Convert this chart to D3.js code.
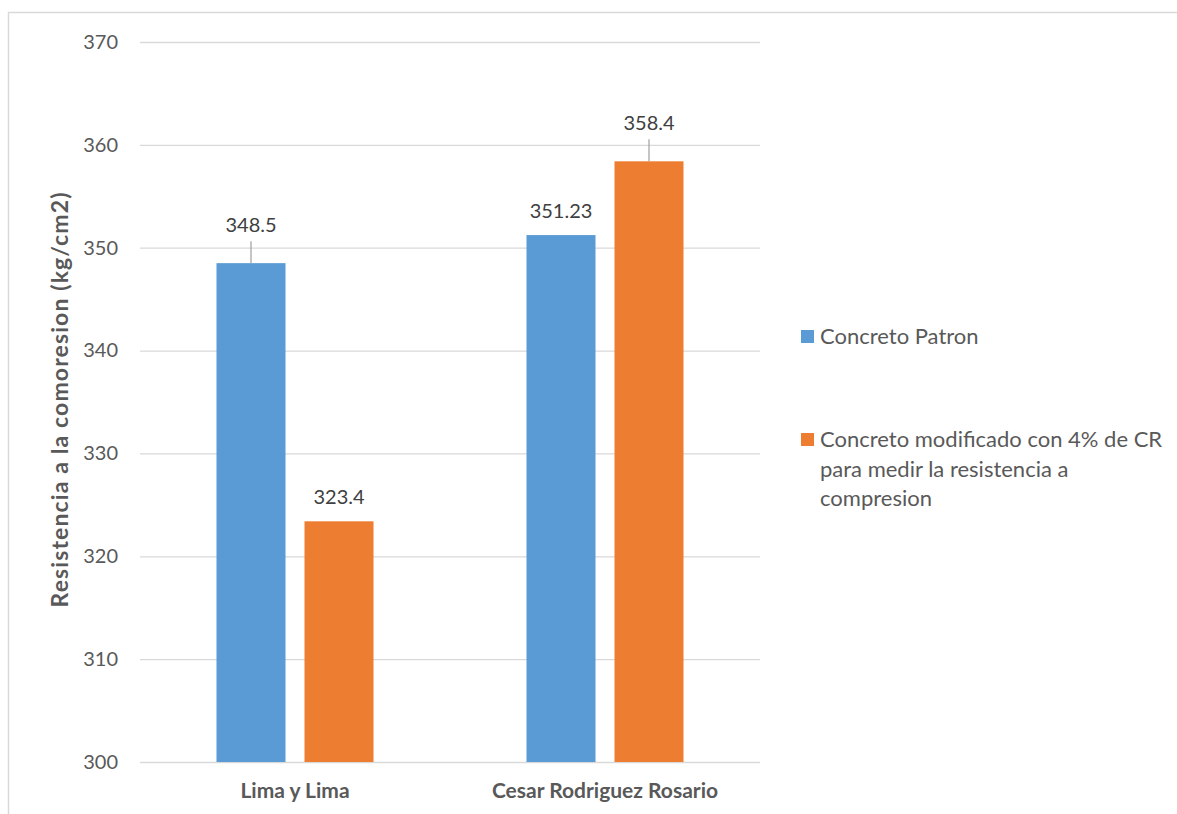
<!DOCTYPE html>
<html>
<head>
<meta charset="utf-8">
<script src="https://cdn.jsdelivr.net/npm/d3@7"></script>
<style>
  html, body { margin: 0; padding: 0; background: #fff; }
  svg { display: block; font-family: Lato, "Open Sans", "Liberation Sans", sans-serif; }
</style>
</head>
<body>
<svg id="chart" width="1177" height="814"></svg>
<script>
// Compressive strength by plant, standard vs. modified concrete
const categories = ["Lima y Lima", "Cesar Rodriguez Rosario"];
const seriesNames = ["Concreto Patron", "Concreto modificado con 4% de CR para medir la resistencia a compresion"];
const patronValues = [348.5, 351.23];
const modificadoValues = [323.4, 358.4];
const valueLabels = [["348.5", "351.23"], ["323.4", "358.4"]];
const yTicks = [300, 310, 320, 330, 340, 350, 360, 370];
const leaderLines = [[true, false], [false, true]]; // [series][category]

const colors = ["#5B9BD5", "#ED7D31"];
const textColor = "#595959";
const gridColor = "#d9d9d9";

const svg = d3.select("#chart");

// outer frame
svg.append("rect")
  .attr("x", 8.5).attr("y", 12.5)
  .attr("width", 1200).attr("height", 900)
  .attr("fill", "none").attr("stroke", gridColor).attr("stroke-width", 1.5);

const plot = { left: 140, right: 760, top: 42, bottom: 762 };

const x = d3.scaleBand().domain(categories).range([plot.left, plot.right]).paddingInner(0).paddingOuter(0);
const y = d3.scaleLinear().domain([300, 370]).range([plot.bottom, plot.top]);

const barW = 69, gap = 19;

// gridlines + y tick labels
const yAxis = d3.axisLeft(y).tickValues(yTicks).tickSize(-(plot.right - plot.left)).tickPadding(22).tickFormat(d3.format("d"));
const gy = svg.append("g").attr("transform", `translate(${plot.left},0)`).call(yAxis);
gy.select(".domain").remove();
gy.selectAll(".tick line").attr("stroke", gridColor).attr("stroke-width", 1.3);
gy.selectAll(".tick text").attr("fill", textColor).style("font-size", "20px")
  .style("font-family", "Lato, 'Open Sans', sans-serif");

const series = [patronValues, modificadoValues];

series.forEach((vals, si) => {
  const g = svg.append("g");
  g.selectAll("rect").data(vals).enter().append("rect")
    .attr("x", (d, i) => x(categories[i]) + x.bandwidth() / 2 + (si === 0 ? -gap / 2 - barW : gap / 2))
    .attr("y", d => y(d))
    .attr("width", barW)
    .attr("height", d => y(300) - y(d))
    .attr("fill", colors[si]);

  vals.forEach((d, i) => {
    const cx = x(categories[i]) + x.bandwidth() / 2 + (si === 0 ? -gap / 2 - barW / 2 : gap / 2 + barW / 2);
    const top = y(d);
    const hasLeader = leaderLines[si][i];
    const baseline = hasLeader ? top - 31 : top - 17;
    if (hasLeader) {
      g.append("line")
        .attr("x1", cx).attr("x2", cx)
        .attr("y1", top).attr("y2", top - 22)
        .attr("stroke", "#a6a6a6").attr("stroke-width", 1.3);
    }
    g.append("text")
      .attr("x", cx).attr("y", baseline)
      .attr("text-anchor", "middle")
      .attr("fill", "#404040")
      .style("font-size", "20px")
      .text(valueLabels[si][i]);
  });
});

// category labels
svg.append("g").selectAll("text").data(categories).enter().append("text")
  .attr("x", d => x(d) + x.bandwidth() / 2)
  .attr("y", 798)
  .attr("text-anchor", "middle")
  .attr("fill", textColor)
  .style("font-size", "21px").style("font-weight", "bold")
  .text(d => d);

// y axis title
svg.append("text")
  .attr("transform", `translate(68,400) rotate(-90)`)
  .attr("text-anchor", "middle")
  .attr("fill", textColor)
  .attr("textLength", 415).attr("lengthAdjust", "spacing")
  .style("font-size", "23px").style("font-weight", "bold")
  .text("Resistencia a la comoresion (kg/cm2)");

// legend
const legendLines = [["Concreto Patron"], ["Concreto modificado con 4% de CR", "para medir la resistencia a", "compresion"]];
const legendTops = [330, 433];
legendLines.forEach((lines, i) => {
  svg.append("rect")
    .attr("x", 801).attr("y", legendTops[i])
    .attr("width", 13).attr("height", 13)
    .attr("fill", colors[i]);
  const t = svg.append("text")
    .attr("fill", textColor)
    .style("font-size", "22px");
  lines.forEach((ln, j) => {
    t.append("tspan").attr("x", 820).attr("y", legendTops[i] + 14 + j * 29.5).text(ln);
  });
});
</script>
</body>
</html>
